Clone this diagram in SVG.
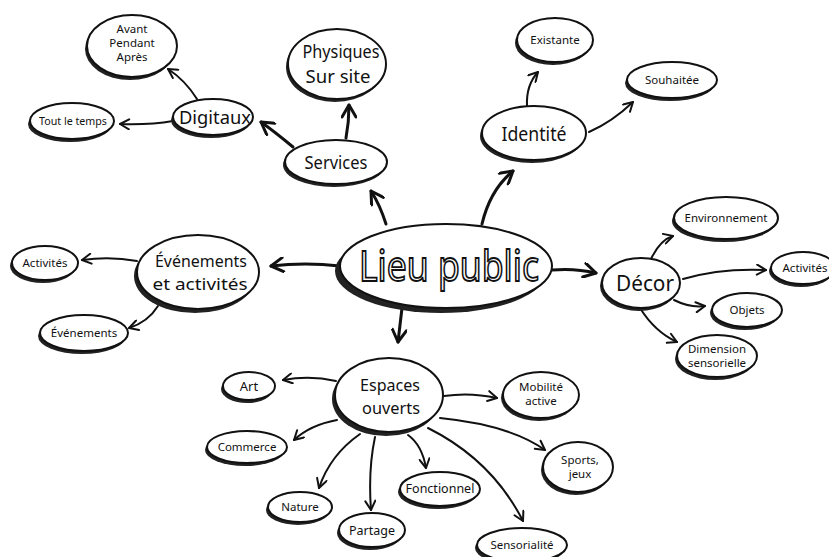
<svg xmlns="http://www.w3.org/2000/svg" width="829" height="557" viewBox="0 0 829 557">
<defs>
<style>
.sh{fill:#222}
.nd{fill:#fff;stroke:#111;stroke-width:2}
.t{font-family:"Noto Sans","DejaVu Sans",sans-serif;fill:#111;text-anchor:middle}
.big{font-size:18px}
.two{font-size:16.5px}
.sm{font-size:11.5px}
.c{fill:none;stroke:#111;stroke-width:2;stroke-linecap:round;marker-end:url(#ah)}
.ct{fill:none;stroke:#111;stroke-width:3;stroke-linecap:round;marker-end:url(#ahb)}
</style>
<marker id="ah" viewBox="0 0 12 12" refX="11" refY="6" markerWidth="12" markerHeight="12" markerUnits="userSpaceOnUse" orient="auto">
<path d="M2,1 L11,6 L2,11" fill="none" stroke="#111" stroke-width="2" stroke-linecap="round" stroke-linejoin="round"/>
</marker>
<marker id="ahb" viewBox="0 0 16 16" refX="14" refY="8" markerWidth="16" markerHeight="16" markerUnits="userSpaceOnUse" orient="auto">
<path d="M2,1 L14,8 L2,15" fill="none" stroke="#111" stroke-width="3" stroke-linecap="round" stroke-linejoin="round"/>
</marker>
</defs>
<rect width="829" height="557" fill="#fff"/>

<g id="connectors">
<path class="ct" d="M386,224 Q380,205 371,191"/>
<path class="ct" d="M482,224 Q490,190 513,171"/>
<path class="ct" d="M340,266 Q305,262 271,266"/>
<path class="ct" d="M552,270 Q575,268 596,273"/>
<path class="ct" d="M402,308 Q400,325 398,342"/>
<path class="ct" d="M293,147 Q275,132 261,122"/>
<path class="ct" d="M346,138 Q349,122 349,105"/>
<path class="c" d="M197,99 Q185,80 168,69"/>
<path class="c" d="M173,121 Q150,125 120,124"/>
<path class="c" d="M527,106 Q526,85 538,72"/>
<path class="c" d="M589,132 Q612,122 633,102"/>
<path class="c" d="M137,261 Q110,256 82,260"/>
<path class="c" d="M158,306 Q148,322 129,328"/>
<path class="c" d="M651,259 Q660,240 673,236"/>
<path class="c" d="M683,279 Q720,268 766,270"/>
<path class="c" d="M674,300 Q690,308 705,306"/>
<path class="c" d="M640,308 Q655,332 677,342"/>
<path class="c" d="M336,381 Q310,375 283,380"/>
<path class="c" d="M444,396 Q470,392 497,398"/>
<path class="c" d="M337,420 Q310,425 294,440"/>
<path class="c" d="M360,434 Q330,455 319,488"/>
<path class="c" d="M375,437 Q368,470 371,510"/>
<path class="c" d="M408,435 Q422,445 426,468"/>
<path class="c" d="M428,428 Q492,460 523,521"/>
<path class="c" d="M440,418 Q510,425 545,450"/>
</g>

<g id="lieu-public">
<ellipse class="sh" cx="441" cy="271" rx="106" ry="42"/>
<ellipse class="nd" cx="446" cy="266" rx="106" ry="42" stroke-width="2.5"/>
<text class="t" x="449" y="281" font-size="42" textLength="180" lengthAdjust="spacingAndGlyphs" style="fill:#fff;stroke:#111;stroke-width:1.8">Lieu public</text>
</g>

<g id="services">
<ellipse class="sh" cx="334" cy="165" rx="51" ry="22"/>
<ellipse class="nd" cx="336" cy="162" rx="51" ry="22"/>
<text class="t big" x="336" y="169" textLength="63" lengthAdjust="spacingAndGlyphs">Services</text>
</g>
<g id="physiques">
<ellipse class="sh" cx="335" cy="67" rx="49" ry="35"/>
<ellipse class="nd" cx="337" cy="64" rx="49" ry="35"/>
<text class="t big" x="341" y="58" textLength="77" lengthAdjust="spacingAndGlyphs">Physiques</text>
<text class="t big" x="338" y="83" textLength="65" lengthAdjust="spacingAndGlyphs">Sur site</text>
</g>
<g id="digitaux">
<ellipse class="sh" cx="211" cy="120" rx="40" ry="18"/>
<ellipse class="nd" cx="213" cy="117" rx="40" ry="18"/>
<text class="t big" x="215" y="124" textLength="72" lengthAdjust="spacingAndGlyphs">Digitaux</text>
</g>
<g id="avant">
<ellipse class="sh" cx="130" cy="49" rx="45" ry="31"/>
<ellipse class="nd" cx="132" cy="46" rx="45" ry="31"/>
<text class="t sm" x="132" y="33">Avant</text>
<text class="t sm" x="132" y="47">Pendant</text>
<text class="t sm" x="132" y="61">Après</text>
</g>
<g id="tout-le-temps">
<ellipse class="sh" cx="70" cy="124" rx="42" ry="18"/>
<ellipse class="nd" cx="72" cy="121" rx="42" ry="18"/>
<text class="t sm" x="73" y="125" textLength="68" lengthAdjust="spacingAndGlyphs">Tout le temps</text>
</g>

<g id="identite">
<ellipse class="sh" cx="532" cy="136" rx="52" ry="27"/>
<ellipse class="nd" cx="534" cy="133" rx="52" ry="27"/>
<text class="t" x="534" y="141" font-size="20" textLength="65" lengthAdjust="spacingAndGlyphs">Identité</text>
</g>
<g id="existante">
<ellipse class="sh" cx="553" cy="43" rx="38" ry="22"/>
<ellipse class="nd" cx="555" cy="40" rx="38" ry="22"/>
<text class="t sm" x="555" y="44">Existante</text>
</g>
<g id="souhaitee">
<ellipse class="sh" cx="670" cy="83" rx="45" ry="18"/>
<ellipse class="nd" cx="672" cy="80" rx="45" ry="18"/>
<text class="t sm" x="672" y="84">Souhaitée</text>
</g>

<g id="evenements-activites">
<ellipse class="sh" cx="195" cy="276" rx="61" ry="37"/>
<ellipse class="nd" cx="198" cy="272" rx="61" ry="37"/>
<text class="t two" x="201" y="267" textLength="92" lengthAdjust="spacingAndGlyphs">Événements</text>
<text class="t two" x="200" y="290" textLength="95" lengthAdjust="spacingAndGlyphs">et activités</text>
</g>
<g id="activites-gauche">
<ellipse class="sh" cx="43" cy="266" rx="33" ry="17"/>
<ellipse class="nd" cx="45" cy="263" rx="33" ry="17"/>
<text class="t sm" x="45" y="267">Activités</text>
</g>
<g id="evenements">
<ellipse class="sh" cx="82" cy="336" rx="44" ry="18"/>
<ellipse class="nd" cx="84" cy="333" rx="44" ry="18"/>
<text class="t sm" x="84" y="337">Événements</text>
</g>

<g id="decor">
<ellipse class="sh" cx="639" cy="286" rx="39" ry="25"/>
<ellipse class="nd" cx="641" cy="283" rx="39" ry="25"/>
<text class="t" x="645" y="291" font-size="21" textLength="58" lengthAdjust="spacingAndGlyphs">Décor</text>
</g>
<g id="environnement">
<ellipse class="sh" cx="724" cy="221" rx="52" ry="21"/>
<ellipse class="nd" cx="726" cy="218" rx="52" ry="21"/>
<text class="t sm" x="726" y="222">Environnement</text>
</g>
<g id="activites-droite">
<ellipse class="sh" cx="801" cy="271" rx="32" ry="16"/>
<ellipse class="nd" cx="803" cy="268" rx="32" ry="16"/>
<text class="t sm" x="805" y="272">Activités</text>
</g>
<g id="objets">
<ellipse class="sh" cx="745" cy="313" rx="35" ry="17"/>
<ellipse class="nd" cx="747" cy="310" rx="35" ry="17"/>
<text class="t sm" x="747" y="314">Objets</text>
</g>
<g id="dimension">
<ellipse class="sh" cx="715" cy="359" rx="40" ry="21"/>
<ellipse class="nd" cx="717" cy="356" rx="40" ry="21"/>
<text class="t sm" x="717" y="353">Dimension</text>
<text class="t sm" x="717" y="367">sensorielle</text>
</g>

<g id="espaces-ouverts">
<ellipse class="sh" cx="386" cy="399" rx="54" ry="37"/>
<ellipse class="nd" cx="389" cy="395" rx="54" ry="37"/>
<text class="t two" x="390" y="391" textLength="60" lengthAdjust="spacingAndGlyphs">Espaces</text>
<text class="t two" x="391" y="414" textLength="58" lengthAdjust="spacingAndGlyphs">ouverts</text>
</g>
<g id="art">
<ellipse class="sh" cx="247" cy="389" rx="26" ry="14"/>
<ellipse class="nd" cx="249" cy="386" rx="26" ry="14"/>
<text class="t" x="249" y="391" font-size="13">Art</text>
</g>
<g id="commerce">
<ellipse class="sh" cx="245" cy="450" rx="40" ry="16"/>
<ellipse class="nd" cx="247" cy="447" rx="40" ry="16"/>
<text class="t sm" x="247" y="451">Commerce</text>
</g>
<g id="nature">
<ellipse class="sh" cx="298" cy="510" rx="32" ry="15"/>
<ellipse class="nd" cx="300" cy="507" rx="32" ry="15"/>
<text class="t sm" x="300" y="511">Nature</text>
</g>
<g id="partage">
<ellipse class="sh" cx="370" cy="533" rx="33" ry="17"/>
<ellipse class="nd" cx="372" cy="530" rx="33" ry="17"/>
<text class="t" x="372" y="535" font-size="12.5">Partage</text>
</g>
<g id="fonctionnel">
<ellipse class="sh" cx="438" cy="492" rx="40" ry="17"/>
<ellipse class="nd" cx="440" cy="489" rx="40" ry="17"/>
<text class="t" x="440" y="493" font-size="12.5">Fonctionnel</text>
</g>
<g id="sensorialite">
<ellipse class="sh" cx="520" cy="548" rx="45" ry="17"/>
<ellipse class="nd" cx="522" cy="545" rx="45" ry="17"/>
<text class="t sm" x="522" y="549">Sensorialité</text>
</g>
<g id="mobilite">
<ellipse class="sh" cx="539" cy="398" rx="38" ry="23"/>
<ellipse class="nd" cx="541" cy="395" rx="38" ry="23"/>
<text class="t sm" x="541" y="391">Mobilité</text>
<text class="t sm" x="541" y="405">active</text>
</g>
<g id="sports">
<ellipse class="sh" cx="576" cy="470" rx="35" ry="25"/>
<ellipse class="nd" cx="578" cy="467" rx="35" ry="25"/>
<text class="t sm" x="580" y="464">Sports,</text>
<text class="t sm" x="580" y="478">jeux</text>
</g>
</svg>
